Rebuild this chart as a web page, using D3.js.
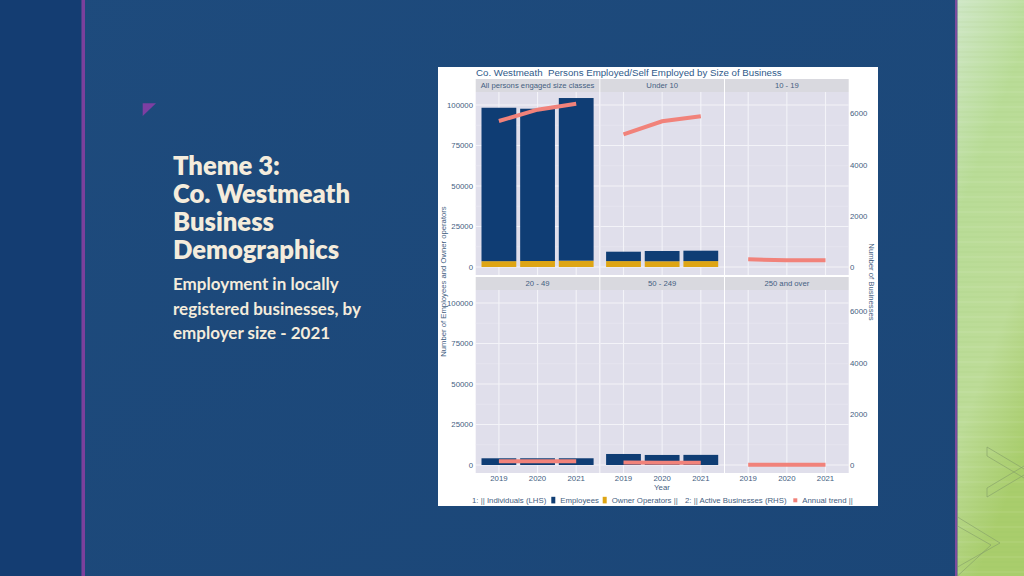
<!DOCTYPE html>
<html><head><meta charset="utf-8">
<script src="https://cdn.jsdelivr.net/npm/d3@7"></script>
<style>html,body{margin:0;padding:0;background:#1c4a7b;overflow:hidden}</style>
</head><body>
<svg id="c" width="1024" height="576"></svg>
<script>
// ---------------- data ----------------
const years = ["2019", "2020", "2021"];
const sizeClasses = ["All persons engaged size classes", "Under 10", "10 - 19", "20 - 49", "50 - 249", "250 and over"];
const employees = [
  [94700, 94000, 100400],
  [5790, 6330, 6410],
  [null, null, null],
  [4140, 4150, 4150],
  [6800, 6200, 6250],
  [null, null, null]
];
const ownerOperators = [
  [3600, 3700, 3900],
  [3650, 3550, 3650],
  [null, null, null],
  [null, null, null],
  [null, null, null],
  [null, null, null]
];
const activeBusinesses = [
  [5714, 6157, 6393],
  [5194, 5702, 5897],
  [300, 265, 262],
  [150, 148, 150],
  [100, 88, 88],
  [12, 12, 12]
];
const leftTicks = [0, 25000, 50000, 75000, 100000];
const rightTicks = [0, 2000, 4000, 6000];
const chartTitle = "Co. Westmeath  Persons Employed/Self Employed by Size of Business";
const leftAxisTitle = "Number of Employees and Owner operators";
const rightAxisTitle = "Number of Businesses";
const xAxisTitle = "Year";
const slideTitle = ["Theme 3:", "Co. Westmeath", "Business", "Demographics"];
const slideSub = ["Employment in locally", "registered businesses, by", "employer size - 2021"];

// ---------------- slide background ----------------
const svg = d3.select("#c");
const defs = svg.append("defs");
const gBlue = defs.append("linearGradient").attr("id", "gb").attr("x1", 0).attr("y1", 0).attr("x2", 1).attr("y2", 1);
gBlue.append("stop").attr("offset", "0%").attr("stop-color", "#1e4b7d");
gBlue.append("stop").attr("offset", "100%").attr("stop-color", "#1b4677");
const gGreen = defs.append("linearGradient").attr("id", "gg").attr("x1", 0).attr("y1", 0).attr("x2", 0.3).attr("y2", 1);
gGreen.append("stop").attr("offset", "0%").attr("stop-color", "#cfe7c6");
gGreen.append("stop").attr("offset", "35%").attr("stop-color", "#b9dc97");
gGreen.append("stop").attr("offset", "70%").attr("stop-color", "#bddc98");
gGreen.append("stop").attr("offset", "100%").attr("stop-color", "#a9cd6c");

svg.append("rect").attr("x", 0).attr("y", 0).attr("width", 1024).attr("height", 576).attr("fill", "url(#gb)");
svg.append("rect").attr("x", 0).attr("y", 0).attr("width", 81.5).attr("height", 576).attr("fill", "#143d72");
svg.append("rect").attr("x", 81.5).attr("y", 0).attr("width", 3.5).attr("height", 576).attr("fill", "#7b409c");
svg.append("rect").attr("x", 955).attr("y", 0).attr("width", 2.5).attr("height", 576).attr("fill", "#7c4c9c");
svg.append("rect").attr("x", 957.5).attr("y", 0).attr("width", 66.5).attr("height", 576).attr("fill", "url(#gg)");
// faint horizontal streaks in the green panel
const streaks = svg.append("g").attr("opacity", 0.2);
d3.range(2, 576, 5).forEach((y, i) => {
  streaks.append("line").attr("x1", 957.5).attr("x2", 1024).attr("y1", y).attr("y2", y)
    .attr("stroke", i % 3 === 0 ? "#ffffff" : "#9cc26a").attr("stroke-width", 0.6);
});
// chevron outlines
const chev = svg.append("g").attr("fill", "none").attr("stroke", "#86a069").attr("stroke-width", 0.8).attr("opacity", 0.8);
chev.append("path").attr("d", "M987,447 L1024,469 M987,456 L1024,478 M987,447 L987,456 M987,488 L1024,466 M987,497 L1024,475 M987,488 L987,497");
chev.append("path").attr("d", "M957.5,517 L1000,543 L957.5,567 M957.5,526 L991,545 L957.5,576");
// purple triangle
svg.append("polygon").attr("points", "142.7,103.3 156,103.3 142.7,116").attr("fill", "#7d3fa2");

// slide text
const st = svg.append("g").attr("font-family", "Lato, 'Open Sans', sans-serif").attr("font-weight", 800).attr("fill", "#f4ecdc");
slideTitle.forEach((t, i) => {
  st.append("text").attr("x", 173).attr("y", 175 + i * 28).attr("font-size", 25.6).text(t);
});
slideSub.forEach((t, i) => {
  st.append("text").attr("x", 173).attr("y", 290 + i * 24.5).attr("font-size", 17).attr("font-weight", 700).text(t);
});

// ---------------- chart ----------------
const FONT = "'Liberation Sans', Arial, sans-serif";
const TXT = "#44607f";
const chart = svg.append("g").attr("font-family", FONT);
chart.append("rect").attr("x", 438).attr("y", 67).attr("width", 440).attr("height", 439).attr("fill", "#ffffff");

chart.append("text").attr("x", 476).attr("y", 75.9).attr("font-size", 9.7).attr("fill", "#2f5a8a")
  .style("white-space", "pre").attr("xml:space", "preserve").text(chartTitle);

const colX = [475.7, 600.3, 725];
const panelW = 123.7;
const rowTop = [79, 277];
const stripH = 13;
const plotH = 183;

const yLeftDomain = [-4940, 108020];
const yRightDomain = [-313, 6849];

const navy = "#0f3d74", gold = "#dea514", coral = "#f1827a";

sizeClasses.forEach((name, k) => {
  const r = Math.floor(k / 3), c = k % 3;
  const x0 = colX[c], top = rowTop[r];
  const pTop = top + stripH, pBot = pTop + plotH;
  const x = d3.scaleLinear().domain([0.4, 3.6]).range([x0, x0 + panelW]);
  const yL = d3.scaleLinear().domain(yLeftDomain).range([pBot, pTop]);
  const yR = d3.scaleLinear().domain(yRightDomain).range([pBot, pTop]);
  const g = chart.append("g");
  // strip
  g.append("rect").attr("x", x0).attr("y", top).attr("width", panelW).attr("height", stripH).attr("fill", "#d9d9df");
  g.append("text").attr("x", x0 + panelW / 2).attr("y", top + 8.6).attr("text-anchor", "middle")
    .attr("font-size", 7.7).attr("fill", TXT).text(name);
  // panel bg
  g.append("rect").attr("x", x0).attr("y", pTop).attr("width", panelW).attr("height", plotH).attr("fill", "#e0dfeb");
  // grid: minor
  d3.range(12500, 108000, 25000).forEach(v => {
    g.append("line").attr("x1", x0).attr("x2", x0 + panelW).attr("y1", yL(v)).attr("y2", yL(v))
      .attr("stroke", "#eaeaf2").attr("stroke-width", 0.6);
  });
  leftTicks.forEach(v => {
    g.append("line").attr("x1", x0).attr("x2", x0 + panelW).attr("y1", yL(v)).attr("y2", yL(v))
      .attr("stroke", "#f3f3f8").attr("stroke-width", 1.1);
  });
  years.forEach((yr, i) => {
    g.append("line").attr("x1", x(i + 1)).attr("x2", x(i + 1)).attr("y1", pTop).attr("y2", pBot)
      .attr("stroke", "#f3f3f8").attr("stroke-width", 1.1);
  });
  // bars
  years.forEach((yr, i) => {
    const o = ownerOperators[k][i] || 0;
    const e = employees[k][i];
    const bw = x(1.45) - x(0.55);
    if (o > 0) {
      g.append("rect").attr("x", x(i + 1 - 0.45)).attr("width", bw)
        .attr("y", yL(o)).attr("height", yL(0) - yL(o)).attr("fill", gold);
    }
    if (e != null) {
      g.append("rect").attr("x", x(i + 1 - 0.45)).attr("width", bw)
        .attr("y", yL(o + e)).attr("height", yL(o) - yL(o + e)).attr("fill", navy);
    }
  });
  // trend line
  const line = d3.line().x((d, i) => x(i + 1)).y(d => yR(d));
  g.append("path").datum(activeBusinesses[k]).attr("d", line).attr("fill", "none")
    .attr("stroke", coral).attr("stroke-width", 4);

  if (c === 0) {
    leftTicks.forEach(v => {
      chart.append("text").attr("x", 473).attr("y", yL(v) + 2.8).attr("text-anchor", "end")
        .attr("font-size", 7.8).attr("fill", TXT).text(String(v));
    });
  }
  if (c === 2) {
    rightTicks.forEach(v => {
      chart.append("text").attr("x", 850).attr("y", yR(v) + 2.8).attr("text-anchor", "start")
        .attr("font-size", 7.8).attr("fill", TXT).text(String(v));
    });
  }
  if (r === 1) {
    years.forEach((yr, i) => {
      chart.append("text").attr("x", x(i + 1)).attr("y", 481).attr("text-anchor", "middle")
        .attr("font-size", 7.8).attr("fill", TXT).text(yr);
    });
  }
});

// axis titles
chart.append("text").attr("transform", "translate(446,281.5) rotate(-90)").attr("text-anchor", "middle")
  .attr("font-size", 7.7).attr("fill", TXT).text(leftAxisTitle);
chart.append("text").attr("transform", "translate(869,282) rotate(90)").attr("text-anchor", "middle")
  .attr("font-size", 7.7).attr("fill", TXT).text(rightAxisTitle);
chart.append("text").attr("x", 662).attr("y", 490).attr("text-anchor", "middle")
  .attr("font-size", 7.8).attr("fill", TXT).text(xAxisTitle);

// legend
const lg = chart.append("g").attr("font-size", 7.8).attr("fill", TXT);
lg.append("text").attr("x", 472).attr("y", 503).text("1: || Individuals (LHS)");
lg.append("rect").attr("x", 551.3).attr("y", 496.8).attr("width", 4).attr("height", 6.6).attr("fill", navy);
lg.append("text").attr("x", 560.3).attr("y", 503).text("Employees");
lg.append("rect").attr("x", 602.7).attr("y", 496.8).attr("width", 4).attr("height", 6.6).attr("fill", gold);
lg.append("text").attr("x", 611.7).attr("y", 503).text("Owner Operators ||");
lg.append("text").attr("x", 685).attr("y", 503).text("2: || Active Businesses (RHS)");
lg.append("rect").attr("x", 793.3).attr("y", 498.3).attr("width", 4).attr("height", 4).attr("fill", coral);
lg.append("text").attr("x", 802.3).attr("y", 503).text("Annual trend ||");
</script>
</body></html>
